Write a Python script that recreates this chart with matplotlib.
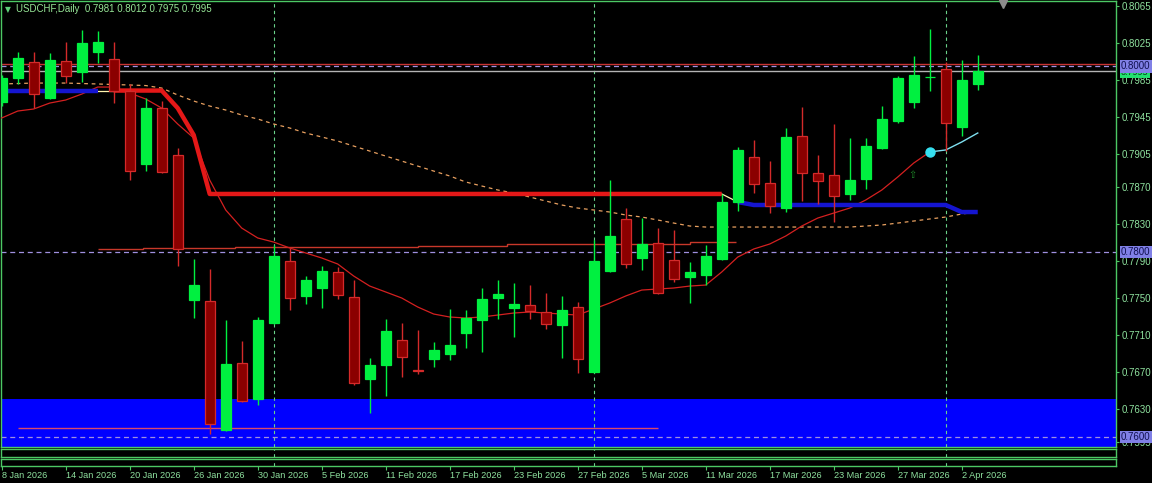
import matplotlib
matplotlib.use("Agg")
import matplotlib.pyplot as plt
import matplotlib.transforms as mtransforms
import numpy as np

plt.rcParams['font.family'] = ['Liberation Sans', 'DejaVu Sans']

# USDCHF daily bars, 8 Jan 2026 .. 3 Apr 2026 (bar index 0..61)
opens = [0.79616, 0.79875, 0.80048, 0.79659, 0.80059, 0.79940, 0.80156, 0.80080, 0.79735, 0.78947,
         0.79551, 0.79044, 0.77479, 0.77469, 0.76076, 0.76800, 0.76411, 0.77231, 0.77900, 0.77523,
         0.77609, 0.77782, 0.77512, 0.76627, 0.76778, 0.77048, 0.76724, 0.76843, 0.76897, 0.77123,
         0.77264, 0.77501, 0.77393, 0.77425, 0.77350, 0.77210, 0.77404, 0.76702, 0.77792, 0.78354,
         0.77933, 0.78095, 0.77911, 0.77728, 0.77749, 0.77922, 0.78537, 0.79023, 0.78742, 0.78472,
         0.79249, 0.78850, 0.78828, 0.78624, 0.78785, 0.79120, 0.79411, 0.79616, 0.79886, 0.79972,
         0.79346, 0.79810]
highs = [0.79908, 0.80156, 0.80153, 0.80142, 0.80267, 0.80393, 0.80382, 0.80267, 0.79807, 0.79663,
         0.79627, 0.79123, 0.77919, 0.77811, 0.77264, 0.77037, 0.77296, 0.78073, 0.78044, 0.77742,
         0.77850, 0.77832, 0.77695, 0.76850, 0.77274, 0.77228, 0.77156, 0.77023, 0.77379, 0.77372,
         0.77606, 0.77695, 0.77660, 0.77641, 0.77552, 0.77523, 0.77458, 0.78127, 0.78774, 0.78469,
         0.78361, 0.78253, 0.78235, 0.77893, 0.78070, 0.78624, 0.79134, 0.79206, 0.78976, 0.79332,
         0.79559, 0.79044, 0.79379, 0.79231, 0.79224, 0.79573, 0.79897, 0.80113, 0.80401, 0.80051,
         0.80069, 0.80120]
lows = [0.79573, 0.79807, 0.79548, 0.79649, 0.79818, 0.79835, 0.80034, 0.79602, 0.78774, 0.78875,
        0.78855, 0.77850, 0.77282, 0.76033, 0.76070, 0.76375, 0.76346, 0.77220, 0.77372, 0.77433,
        0.77396, 0.77487, 0.76562, 0.76263, 0.76447, 0.76645, 0.76677, 0.76753, 0.76832, 0.76965,
        0.76922, 0.77278, 0.77083, 0.77274, 0.77163, 0.76857, 0.76695, 0.76695, 0.77785, 0.77822,
        0.77803, 0.77545, 0.77677, 0.77450, 0.77641, 0.77915, 0.78443, 0.78631, 0.78415, 0.78432,
        0.78551, 0.78515, 0.78324, 0.78559, 0.78674, 0.79106, 0.79393, 0.79555, 0.79738, 0.79091,
        0.79253, 0.79750]
closes = [0.79875, 0.80091, 0.79702, 0.80069, 0.79897, 0.80253, 0.80264, 0.79735, 0.78875, 0.79548,
          0.78861, 0.78030, 0.77641, 0.76141, 0.76789, 0.76389, 0.77264, 0.77954, 0.77501, 0.77695,
          0.77792, 0.77534, 0.76584, 0.76778, 0.77145, 0.76864, 0.76713, 0.76940, 0.76994, 0.77285,
          0.77490, 0.77545, 0.77436, 0.77361, 0.77220, 0.77372, 0.76843, 0.77900, 0.78170, 0.77868,
          0.78084, 0.77555, 0.77706, 0.77782, 0.77954, 0.78537, 0.79099, 0.78731, 0.78494, 0.79239,
          0.78850, 0.78764, 0.78602, 0.78774, 0.79141, 0.79433, 0.79875, 0.79908, 0.79891, 0.79390,
          0.79854, 0.79950]

# fast moving average (thin red, bars 0..58), then its cyan tail (bars 58..61)
ma_fast = [0.79444, 0.79519, 0.79541, 0.79605, 0.79638, 0.79702, 0.79778, 0.79778, 0.79713, 0.79649,
           0.79551, 0.79379, 0.79228, 0.78774, 0.78451, 0.78256, 0.78149, 0.78105, 0.78041, 0.77987,
           0.77933, 0.77868, 0.77738, 0.77630, 0.77566, 0.77501, 0.77404, 0.77328, 0.77296, 0.77285,
           0.77296, 0.77317, 0.77339, 0.77350, 0.77339, 0.77328, 0.77317, 0.77382, 0.77447, 0.77523,
           0.77587, 0.77598, 0.77609, 0.77630, 0.77641, 0.77782, 0.77943, 0.78030, 0.78084, 0.78170,
           0.78278, 0.78364, 0.78418, 0.78472, 0.78559, 0.78666, 0.78807, 0.78958, 0.79077]
ma_fast_tail = [0.79077, 0.79099, 0.79185, 0.79282]

# slow moving average (dashed orange)
ma_slow = [0.79811, 0.79816, 0.79821, 0.79821, 0.79821, 0.79816, 0.79811, 0.79805, 0.79800, 0.79794,
           0.79767, 0.79692, 0.79627, 0.79573, 0.79530, 0.79476, 0.79433, 0.79379, 0.79336, 0.79282,
           0.79239, 0.79195, 0.79141, 0.79087, 0.79033, 0.78979, 0.78925, 0.78871, 0.78818, 0.78753,
           0.78710, 0.78667, 0.78634, 0.78591, 0.78548, 0.78505, 0.78472, 0.78451, 0.78429, 0.78397,
           0.78375, 0.78343, 0.78310, 0.78278, 0.78267, 0.78267, 0.78267, 0.78267, 0.78267, 0.78267,
           0.78267, 0.78267, 0.78267, 0.78267, 0.78278, 0.78289, 0.78310, 0.78332, 0.78354, 0.78375,
           0.78408, 0.78429]

# trend stop line (thick), 1 = up (blue), -1 = down (red)
st_level = [0.79740, 0.79740, 0.79740, 0.79740, 0.79740, 0.79740, 0.79740, 0.79740, 0.79740, 0.79740,
            0.79740, 0.79551, 0.79260, 0.78624, 0.78624, 0.78624, 0.78624, 0.78624, 0.78624, 0.78624,
            0.78624, 0.78624, 0.78624, 0.78624, 0.78624, 0.78624, 0.78624, 0.78624, 0.78624, 0.78624,
            0.78624, 0.78624, 0.78624, 0.78624, 0.78624, 0.78624, 0.78624, 0.78624, 0.78624, 0.78624,
            0.78624, 0.78624, 0.78624, 0.78624, 0.78624, 0.78624, 0.78537, 0.78505, 0.78505, 0.78505,
            0.78505, 0.78505, 0.78505, 0.78505, 0.78505, 0.78505, 0.78505, 0.78505, 0.78505, 0.78505,
            0.78429, 0.78429]
st_trend = [1, 1, 1, 1, 1, 1, 1, -1, -1, -1, -1, -1, -1, -1, -1, -1, -1, -1, -1, -1,
            -1, -1, -1, -1, -1, -1, -1, -1, -1, -1, -1, -1, -1, -1, -1, -1, -1, -1, -1, -1,
            -1, -1, -1, -1, -1, -1, 1, 1, 1, 1, 1, 1, 1, 1, 1, 1, 1, 1, 1, 1, 1, 1]

# stepped level line around 0.7805
step_edges = [6.0, 8.8, 14.6, 26.0, 31.6, 43.0, 45.9]
step_levels = [0.78027, 0.78038, 0.78055, 0.78062, 0.78084, 0.78102]

support_from, support_to, support_level = 1.0, 41.0, 0.7610
zone_top = 0.76411
ask_level = 0.80023
bid_level = 0.7995
alert_levels = [0.8000, 0.7800, 0.7600]
month_starts = [17, 37, 59]
signal_bar = 58
arrow_bar, arrow_price = 56.9, 0.78828
chart_shift_bar = 62.6

price_ticks = [0.8065, 0.8025, 0.7985, 0.7945, 0.7905, 0.7870, 0.7830,
               0.7790, 0.7750, 0.7710, 0.7670, 0.7630, 0.7595]
date_ticks = list(range(0, 61, 4))
date_labels = ['8 Jan 2026', '14 Jan 2026', '20 Jan 2026', '26 Jan 2026', '30 Jan 2026',
               '5 Feb 2026', '11 Feb 2026', '17 Feb 2026', '23 Feb 2026', '27 Feb 2026',
               '5 Mar 2026', '11 Mar 2026', '17 Mar 2026', '23 Mar 2026', '27 Mar 2026',
               '2 Apr 2026']
title = 'USDCHF,Daily  0.7981 0.8012 0.7975 0.7995'

FRAME = '#4cc864'
TXT = '#8fe29f'
W, H = 1152, 483

fig = plt.figure(figsize=(W / 100, H / 100), dpi=100, facecolor='black')


def px_axes(left, top, right, bottom):
    return fig.add_axes([left / W, 1 - bottom / H, (right - left) / W, (bottom - top) / H])


ax = px_axes(0.5, 0.5, 1116, 447)
sub1 = px_axes(0.5, 449, 1116, 456.5)
sub2 = px_axes(0.5, 458.5, 1116, 465.5)

xlim = (-0.075, 69.64)
for a in (ax, sub1, sub2):
    a.set_facecolor('black')
    a.set_xlim(*xlim)
    for s in a.spines.values():
        s.set_color(FRAME)
        s.set_linewidth(1)
    a.set_xticks([])
    a.set_yticks([])
    for m in month_starts:
        a.axvline(m, color='#6ad28a', lw=0.8, ls=(0, (3, 3)), zorder=2)

ax.set_ylim(0.75893, 0.80712)

# zone and horizontal lines
ax.axhspan(0.74, zone_top, color='#0000ff', lw=0, zorder=1)
ax.axhline(ask_level, color='#c83232', lw=1, zorder=2)
for lvl in alert_levels:
    ax.axhline(lvl, color='#a090e0', lw=0.9, ls=(0, (4, 3)), zorder=2)
ax.axhline(bid_level, color='#b4b4b4', lw=1, zorder=2)
ax.stairs(step_levels, step_edges, baseline=None, color='#c8382a', lw=1, zorder=3)
ax.hlines(support_level, support_from, support_to, color='#d84a6a', lw=1, zorder=3)

x = np.arange(len(opens))

# moving averages
ax.plot(x, ma_slow, color='#e8a060', lw=0.9, ls=(0, (3, 3)), zorder=3)
ax.plot(x[:len(ma_fast)], ma_fast, color='#d42020', lw=0.9, zorder=3)
ax.plot(x[signal_bar:signal_bar + len(ma_fast_tail)], ma_fast_tail, color='#7fe0f0', lw=1, zorder=3)

# trend stop line
st = np.array(st_level)
tr = np.array(st_trend)
for i in range(len(st) - 1):
    if tr[i] != tr[i + 1]:
        ax.plot([i, i + 1], st[i:i + 2], color='#fff7b0', lw=0.9, zorder=4)
start = 0
for i in range(1, len(st) + 1):
    if i == len(st) or tr[i] != tr[start]:
        ax.plot(x[start:i], st[start:i], color='#1515d0' if tr[start] > 0 else '#e41818',
                lw=3.2, solid_capstyle='butt', solid_joinstyle='round', zorder=4)
        start = i

# candles
o, h, l, c = map(np.array, (opens, highs, lows, closes))
up = c >= o
edge = np.where(up, '#00f040', '#d42a2a')
face = np.where(up, '#00f040', '#8b0000')
ax.vlines(x, l, h, colors=edge, lw=1, zorder=5)
ax.bar(x, np.maximum(np.abs(c - o), 0.00002), bottom=np.minimum(o, c), width=0.64,
       color=face, edgecolor=edge, linewidth=0.9, zorder=6)

ax.plot(signal_bar, ma_fast_tail[0], 'o', ms=6.5, color='#36e0f0', zorder=7)
ax.text(arrow_bar, arrow_price, '\u21e7', color='#1f8a2a', fontsize=7, ha='center',
        va='center', family='DejaVu Sans', zorder=7)

# chart shift marker
shift_tr = mtransforms.blended_transform_factory(ax.transData, ax.transAxes)
ax.plot(chart_shift_bar, 0.993, marker='v', ms=6, color='#8c8c8c', transform=shift_tr,
        clip_on=False, zorder=8)

# right price scale
ax.yaxis.tick_right()
ax.set_yticks(price_ticks)
ax.set_yticklabels([f'{p:.4f}' for p in price_ticks])
ax.tick_params(axis='y', colors=FRAME, labelcolor=TXT, length=2.5, width=0.8,
               labelsize=7, pad=1.5)

lab_tr = mtransforms.blended_transform_factory(ax.transAxes, ax.transData)
ax.text(1.0 + 5 / 1115.5, bid_level - 0.0001, f'{bid_level:.4f}', transform=lab_tr, ha='left',
        va='center', fontsize=6.5, color='#0a3a14', clip_on=False, zorder=20,
        bbox=dict(facecolor='#22e070', edgecolor='none', pad=0.8))
for lvl in alert_levels:
    ax.text(1.0 + 5 / 1115.5, lvl, f'{lvl:.4f}', transform=lab_tr, ha='left', va='center',
            fontsize=7, color='#101050', clip_on=False, zorder=21,
            bbox=dict(facecolor='#8080e6', edgecolor='none', pad=0.9))

# date scale under the sub windows
sub2.set_xticks(date_ticks)
sub2.set_xticklabels(date_labels)
sub2.tick_params(axis='x', colors=FRAME, labelcolor=TXT, length=3, width=0.8,
                 labelsize=6.6, pad=1)
for lbl in sub2.get_xticklabels():
    lbl.set_horizontalalignment('left')

# title
fig.text(5 / W, 1 - 9.5 / H, '\u25bc', color='#5fd07a', fontsize=5.5, va='center',
         family='DejaVu Sans')
fig.text(16 / W, 1 - 9.5 / H, title, color='#96e696', fontsize=7, va='center')

fig.savefig('out.png', dpi=100, facecolor='black')
